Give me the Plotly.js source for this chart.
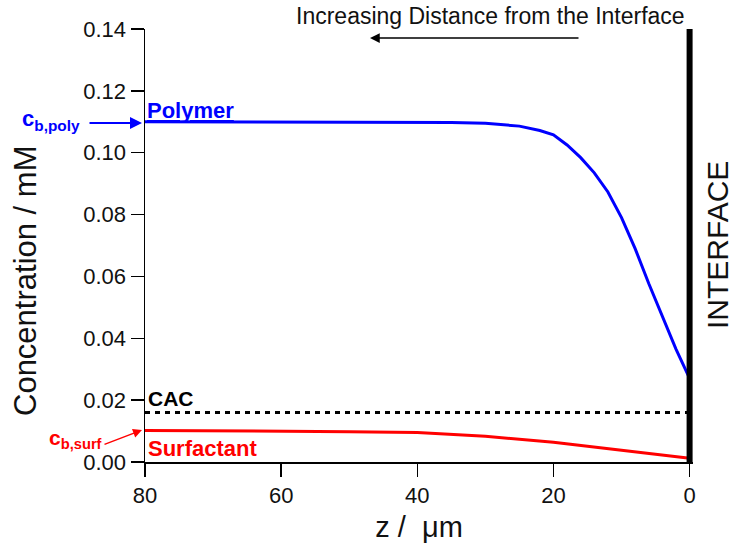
<!DOCTYPE html>
<html>
<head>
<meta charset="utf-8">
<script src="https://cdn.plot.ly/plotly-3.0.1.min.js"></script>
<style>html,body{margin:0;padding:0;background:#fff;}#chart{width:735px;height:549px;}</style>
</head>
<body>
<div id="chart"></div>
<script>
// ---- data ----
var polymerZ = [80, 70, 60, 50, 40, 35, 30, 25, 22, 20, 18, 16, 14, 12, 10, 8, 6, 4, 2, 0];
var polymerC = [0.1100, 0.1100, 0.1100, 0.1100, 0.1099, 0.1098, 0.1095, 0.1086, 0.1072, 0.1058, 0.1025, 0.0984, 0.0935, 0.0873, 0.0790, 0.0690, 0.0577, 0.0474, 0.0365, 0.0270];
var surfZ = [80, 70, 60, 50, 40, 30, 20, 10, 0];
var surfC = [0.0102, 0.0101, 0.0100, 0.0098, 0.0095, 0.0083, 0.0064, 0.0038, 0.0012];
var cacZ = [80, 0];
var cacC = [0.016, 0.016];
var interfaceZ = [0, 0];
var interfaceC = [0, 0.14];
var yTicks = [0, 0.02, 0.04, 0.06, 0.08, 0.10, 0.12, 0.14];
var xTicks = [80, 60, 40, 20, 0];

// ---- layout helpers (pixel -> paper) ----
var L = 145, R = 42, T = 29, B = 87, W = 735, H = 549;
var PW = W - L - R, PH = H - T - B;
function px(x) { return (x - L) / PW; }
function py(y) { return (H - B - y) / PH; }

var FONT = '"Liberation Sans", Arial, sans-serif';

var traces = [
  {x: cacZ, y: cacC, mode: 'lines', line: {color: '#000', width: 3, dash: '5px,5px'}},
  {x: surfZ, y: surfC, mode: 'lines', line: {color: '#ff0000', width: 3}},
  {x: polymerZ, y: polymerC, mode: 'lines', line: {color: '#0000ff', width: 3}},
  {x: interfaceZ, y: interfaceC, mode: 'lines', line: {color: '#000', width: 6}}
];

var annotations = [
  {xref: 'paper', yref: 'paper', x: px(490), y: py(16), text: 'Increasing Distance from the Interface',
   showarrow: false, xanchor: 'center', yanchor: 'middle', font: {family: FONT, size: 23, color: '#111'}},
  {xref: 'paper', yref: 'paper', x: px(370), y: py(38), ax: 210, ay: 0, text: '',
   showarrow: true, arrowhead: 2, arrowsize: 1.3, arrowwidth: 1.5, arrowcolor: '#000'},
  {xref: 'paper', yref: 'paper', x: px(718), y: py(245), text: 'INTERFACE', textangle: -90,
   showarrow: false, xanchor: 'center', yanchor: 'middle', borderpad: 0, font: {family: FONT, size: 30, color: '#111'}},
  {xref: 'paper', yref: 'paper', x: px(25), y: py(281), text: 'Concentration / mM', textangle: -90,
   showarrow: false, xanchor: 'center', yanchor: 'middle', font: {family: FONT, size: 31, color: '#111'}},
  {xref: 'paper', yref: 'paper', x: px(145), y: py(110), text: '<b><u>Polymer</u></b>',
   showarrow: false, xanchor: 'left', yanchor: 'middle', font: {family: FONT, size: 22, color: '#0000ff'}},
  {xref: 'paper', yref: 'paper', x: px(82), y: py(120), text: '<b>c<sub>b,poly</sub></b>',
   showarrow: false, xanchor: 'right', yanchor: 'middle', font: {family: FONT, size: 22, color: '#0000ff'}},
  {xref: 'paper', yref: 'paper', x: px(142), y: py(123), ax: -54, ay: 0, text: '',
   showarrow: true, arrowhead: 2, arrowsize: 1.2, arrowwidth: 2, arrowcolor: '#0000ff'},
  {xref: 'paper', yref: 'paper', x: px(146), y: py(398), text: '<b>CAC</b>',
   showarrow: false, xanchor: 'left', yanchor: 'middle', font: {family: FONT, size: 21, color: '#000'}},
  {xref: 'paper', yref: 'paper', x: px(146), y: py(448), text: '<b>Surfactant</b>',
   showarrow: false, xanchor: 'left', yanchor: 'middle', font: {family: FONT, size: 22, color: '#ff0000'}},
  {xref: 'paper', yref: 'paper', x: px(104), y: py(439), text: '<b>c<sub>b,surf</sub></b>',
   showarrow: false, xanchor: 'right', yanchor: 'middle', font: {family: FONT, size: 21, color: '#ff0000'}},
  {xref: 'paper', yref: 'paper', x: px(142), y: py(430), ax: -39, ay: 15, text: '',
   showarrow: true, arrowhead: 2, arrowsize: 1.2, arrowwidth: 1.5, arrowcolor: '#ff0000'}
];

var layout = {
  width: W, height: H,
  margin: {l: L, r: R, t: T, b: B, pad: 0},
  paper_bgcolor: '#fff', plot_bgcolor: '#fff',
  showlegend: false,
  font: {family: FONT, size: 22, color: '#111'},
  xaxis: {
    range: [80, -0.5], showgrid: false, zeroline: false,
    showline: true, linecolor: '#000', linewidth: 1.5, mirror: false,
    ticks: 'outside', ticklen: 13, tickwidth: 1.5, tickcolor: '#000',
    tickmode: 'array', tickvals: xTicks, ticktext: xTicks.map(String),
    tickfont: {family: FONT, size: 22, color: '#111'},
    title: {text: 'z /  \u03bcm', font: {family: FONT, size: 29, color: '#111'}, standoff: 10}
  },
  yaxis: {
    range: [0, 0.14], showgrid: false, zeroline: false,
    showline: true, linecolor: '#000', linewidth: 1.5, mirror: false,
    ticks: 'outside', ticklen: 13, tickwidth: 1.5, tickcolor: '#000',
    tickmode: 'array', tickvals: yTicks, ticktext: yTicks.map(function (v) { return v.toFixed(2); }),
    tickfont: {family: FONT, size: 22, color: '#111'}
  },
  annotations: annotations
};

Plotly.newPlot('chart', traces, layout, {staticPlot: true, displayModeBar: false});
</script>
</body>
</html>
